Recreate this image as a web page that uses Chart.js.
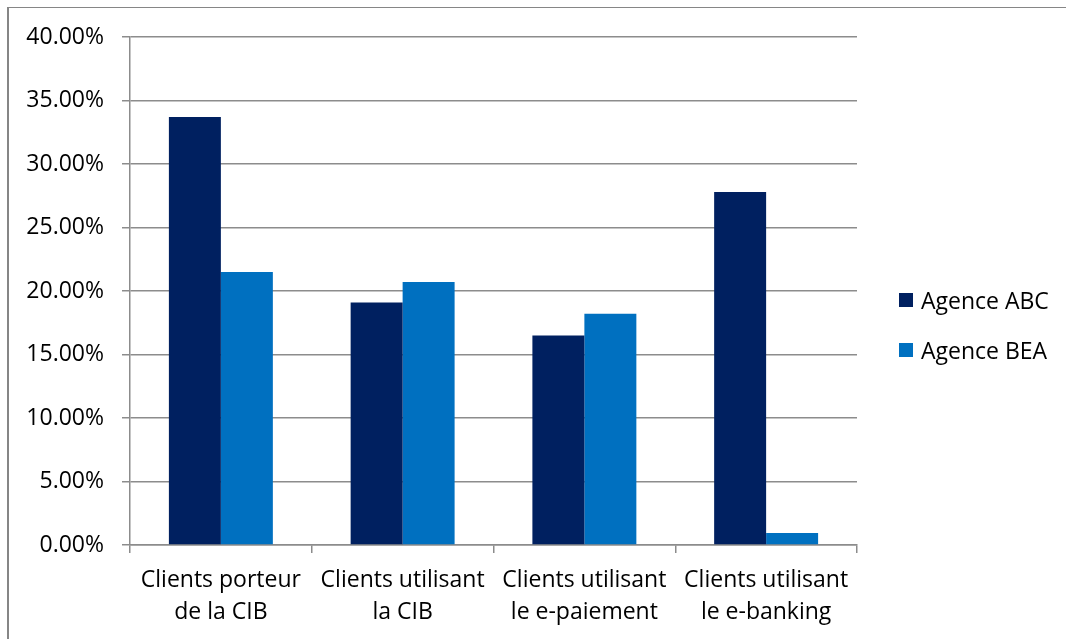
<!DOCTYPE html>
<html>
<head>
<meta charset="utf-8">
<script src="https://cdn.jsdelivr.net/npm/chart.js@4.4.0/dist/chart.umd.min.js"></script>
<style>
  body { margin: 0; background: #fff; }
  #wrap { position: relative; width: 1066px; height: 639px; overflow: hidden; }
  #frame { position: absolute; left: 7px; top: 7px; width: 1100px; height: 700px;
           border-left: 2px solid #868686; border-top: 1px solid #868686; pointer-events: none; }
  #legend { position: absolute; left: 899px; top: 286px; font-family: "Open Sans", sans-serif;
            font-size: 23px; color: #000; }
  .item { display: flex; align-items: center; height: 28px; margin-bottom: 22px; }
  .box { width: 14px; height: 14px; margin-right: 8px; }
</style>
</head>
<body>
<div id="wrap">
  <canvas id="myChart" width="1066" height="639"></canvas>
  <div id="frame"></div>
  <div id="legend"></div>
</div>
<script>
// categories (two lines each)
const categories = [
    ['Clients porteur', 'de la CIB'],
    ['Clients utilisant', 'la CIB'],
    ['Clients utilisant', 'le e-paiement'],
    ['Clients utilisant', 'le e-banking']
];
const seriesNames = ['Agence ABC', 'Agence BEA'];
const abcValues = [33.7, 19.1, 16.5, 27.8];
const beaValues = [21.5, 20.7, 18.2, 0.95];
const colors = ['#002060', '#0070C0'];

const yMin = 0;
const yMax = 40;
const yStep = 5;

const gridColor = '#8c8c8c';
const fontFamily = '"Open Sans", sans-serif';

const ctx = document.getElementById('myChart').getContext('2d');
const myChart = new Chart(ctx, {
    type: 'bar',
    data: {
        labels: categories,
        datasets: [
            { label: seriesNames[0], data: abcValues, backgroundColor: colors[0] },
            { label: seriesNames[1], data: beaValues, backgroundColor: colors[1] }
        ]
    },
    options: {
        responsive: false,
        animation: false,
        layout: { padding: { left: 0, top: 37, right: 209, bottom: 0 } },
        datasets: { bar: { categoryPercentage: 0.572, barPercentage: 1.0 } },
        plugins: {
            legend: { display: false },
            tooltip: { enabled: false }
        },
        scales: {
            x: {
                grid: { drawOnChartArea: false, drawTicks: true, tickLength: 8, color: gridColor, lineWidth: 1.5, offset: true },
                border: { color: gridColor, width: 1.5 },
                ticks: { color: '#000', font: { family: fontFamily, size: 23, lineHeight: 1.4 }, padding: 11, maxRotation: 0, autoSkip: false },
                afterFit: (scale) => { scale.height = 94; }
            },
            y: {
                min: yMin,
                max: yMax,
                grid: { color: gridColor, lineWidth: 1.5, tickLength: 8 },
                border: { color: gridColor, width: 1.5 },
                ticks: {
                    stepSize: yStep,
                    color: '#000',
                    padding: 18,
                    font: { family: fontFamily, size: 23 },
                    callback: (v) => v.toFixed(2) + '%'
                },
                afterFit: (scale) => { scale.width = 130; }
            }
        }
    }
});

// legend built from the same series arrays
const legendEl = document.getElementById('legend');
seriesNames.forEach((name, i) => {
    const item = document.createElement('div');
    item.className = 'item';
    const box = document.createElement('span');
    box.className = 'box';
    box.style.background = colors[i];
    const txt = document.createElement('span');
    txt.textContent = name;
    item.appendChild(box);
    item.appendChild(txt);
    legendEl.appendChild(item);
});
</script>
</body>
</html>
